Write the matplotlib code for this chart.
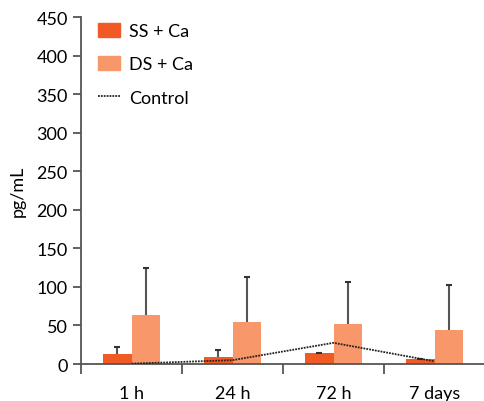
import numpy as np
import matplotlib.pyplot as plt
from matplotlib.lines import Line2D
from matplotlib.patches import Patch

plt.rcParams['font.family'] = ['Lato', 'DejaVu Sans']

# data
categories = ["1 h", "24 h", "72 h", "7 days"]
ss_ca = [13, 9, 14, 6.5]
ss_ca_err = [9, 9.5, 0.5, 0.5]
ds_ca = [63.5, 54.5, 52, 44]
ds_ca_err = [61, 58.5, 55, 58]
control = [0.5, 5, 27.5, 3.5]

ss_color = "#F15A24"
ds_color = "#F7976A"
axis_color = "#555555"
fs = 13

fig = plt.figure(figsize=(4.84, 4.02), dpi=100)
ax = fig.add_axes([0.1674, 0.092, 0.8326, 0.863])

x = np.arange(len(categories))
w = 0.28
ax.bar(x - w / 2, ss_ca, width=w, color=ss_color, zorder=2)
ax.bar(x + w / 2, ds_ca, width=w, color=ds_color, zorder=2)

# upward-only error bars with a small top cap
for xs, vals, errs in [(x - w / 2, ss_ca, ss_ca_err), (x + w / 2, ds_ca, ds_ca_err)]:
    tops = np.array(vals) + np.array(errs)
    ax.vlines(xs, vals, tops, color=axis_color, linewidth=1.5, zorder=3)
    ax.plot(xs, tops, linestyle="none", marker="_", markersize=5,
            markeredgewidth=1.5, color="#333333", zorder=3)

ax.plot(x, control, color="#222222", linestyle=(0, (1, 0.6)), linewidth=1.3, zorder=4)

ax.set_xlim(-0.5, 3.49)
ax.set_ylim(0, 450)
ax.set_yticks(np.arange(0, 451, 50))
ax.set_xticks(np.arange(-0.5, 3.5, 1.0))
ax.set_xticklabels([])
ax.set_xticks(x, minor=True)
ax.set_xticklabels(categories, minor=True)
ax.tick_params(axis="x", which="major", length=7, width=1.3, color=axis_color, direction="out")
ax.tick_params(axis="x", which="minor", length=0, pad=15, labelsize=fs)
ax.tick_params(axis="y", length=6, width=1.3, color=axis_color, labelsize=fs)

for side in ["top", "right"]:
    ax.spines[side].set_visible(False)
for side in ["left", "bottom"]:
    ax.spines[side].set_color(axis_color)
    ax.spines[side].set_linewidth(1.3)

ax.set_ylabel("pg/mL", fontsize=fs, labelpad=8)

handles = [Patch(color=ss_color), Patch(color=ds_color),
           Line2D([], [], color="#222222", linestyle=(0, (1, 0.6)), linewidth=1.3)]
ax.legend(handles, ["SS + Ca", "DS + Ca", "Control"], loc="upper left",
          bbox_to_anchor=(0.003, 1.03), frameon=False, fontsize=fs,
          handlelength=1.2, handleheight=0.8, labelspacing=0.95, handletextpad=0.5)

plt.savefig("out.png", dpi=100)
